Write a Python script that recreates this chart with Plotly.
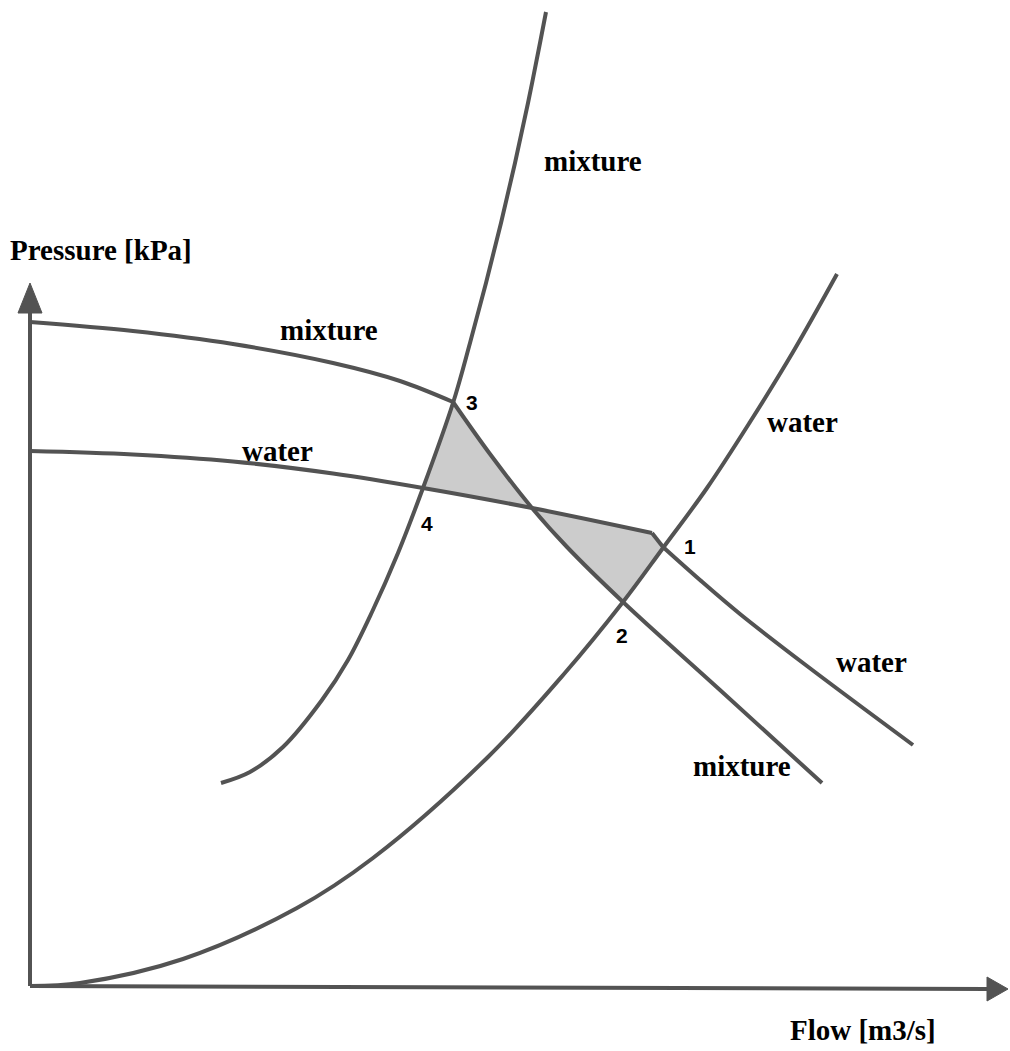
import plotly.graph_objects as go

# Flow axis (x) and pressure axis (y) in drawing units; origin at the axes corner.

# Pump curve with mixture (bends at operating point 3)
mix_pump_q = [0, 103, 203, 303, 370, 423, 460, 502, 537, 593, 690, 792]
mix_pump_p = [664, 655, 642, 623, 605, 584, 532, 478, 439, 384, 296, 203]
mix_pump_breaks = [423]

# Pump curve with water (bends near operating point 1)
water_pump_q = [0, 103, 203, 303, 393, 502, 622, 633, 670, 710, 777, 883]
water_pump_p = [535, 531.5, 524.5, 512.5, 498, 478, 453, 439, 406, 372, 320, 241]
water_pump_breaks = [622, 633]

# System curve with mixture (steep)
mix_sys_q = [191, 220, 253, 292, 318, 342, 368, 393, 423, 440, 456, 471, 485, 498, 510, 516]
mix_sys_p = [203, 214, 239, 286, 326, 374, 433, 498, 583, 643, 703, 763, 823, 883, 943, 974]

# System curve with water (starts at origin)
water_sys_q = [0, 50, 153, 267, 343, 458, 534, 593, 633, 677, 720, 763, 807]
water_sys_p = [0, 3, 27, 78, 128, 229, 312, 384, 438, 498, 564, 634, 712]

# Operating points and where the two pump curves cross
op_labels = ["1", "2", "3", "4"]
op_q = [633, 593, 423, 393]
op_p = [439, 384, 584, 498]
cross_q, cross_p = 502, 478

LINE = "#535353"
FILL = "#cccccc"
LW = 4

fig = go.Figure()


def pts_between(qs, ps, q0, q1):
    lo, hi = min(q0, q1), max(q0, q1)
    sel = [(q, p) for q, p in zip(qs, ps) if lo <= q <= hi]
    if q0 > q1:
        sel = sel[::-1]
    return sel


def add_fill(points):
    fig.add_trace(go.Scatter(
        x=[q for q, _ in points], y=[p for _, p in points],
        mode="lines", fill="toself", fillcolor=FILL,
        line=dict(width=0), hoverinfo="skip", showlegend=False))


# Shaded area between points 3, crossing and 4
q1, q2, q3, q4 = op_q
p1, p2, p3, p4 = op_p
area_a = (pts_between(mix_pump_q, mix_pump_p, q3, cross_q)
          + pts_between(water_pump_q, water_pump_p, cross_q, q4)
          + pts_between(mix_sys_q, mix_sys_p, q4, q3))
add_fill(area_a)

# Shaded area between crossing, 1 and 2
area_b = (pts_between(water_pump_q, water_pump_p, cross_q, q1)
          + pts_between(water_sys_q, water_sys_p, q1, q2)
          + pts_between(mix_pump_q, mix_pump_p, q2, cross_q))
add_fill(area_b)


def add_curve(qs, ps, breaks=()):
    cuts = [qs[0]] + list(breaks) + [qs[-1]]
    for a, b in zip(cuts[:-1], cuts[1:]):
        seg = pts_between(qs, ps, a, b)
        fig.add_trace(go.Scatter(
            x=[q for q, _ in seg], y=[p for _, p in seg],
            mode="lines", line=dict(color=LINE, width=LW, shape="spline", smoothing=1.0),
            hoverinfo="skip", showlegend=False))


add_curve(mix_pump_q, mix_pump_p, mix_pump_breaks)
add_curve(water_pump_q, water_pump_p, water_pump_breaks)
add_curve(mix_sys_q, mix_sys_p)
add_curve(water_sys_q, water_sys_p)

# Axes drawn as arrows
x_axis_end = (957, -3)
x_axis_tip = 978
y_axis_end = 673
y_axis_tip = 703
head = 12

fig.add_trace(go.Scatter(x=[0, x_axis_end[0]], y=[0, x_axis_end[1]], mode="lines",
                         line=dict(color=LINE, width=LW), hoverinfo="skip", showlegend=False))
fig.add_trace(go.Scatter(x=[0, 0], y=[0, y_axis_end], mode="lines",
                         line=dict(color=LINE, width=LW), hoverinfo="skip", showlegend=False))
fig.add_trace(go.Scatter(
    x=[x_axis_end[0], x_axis_tip, x_axis_end[0], x_axis_end[0]],
    y=[x_axis_end[1] + head, x_axis_end[1], x_axis_end[1] - head, x_axis_end[1] + head],
    mode="lines", fill="toself", fillcolor=LINE, line=dict(color=LINE, width=1),
    hoverinfo="skip", showlegend=False))
fig.add_trace(go.Scatter(
    x=[-head, 0, head, -head], y=[y_axis_end, y_axis_tip, y_axis_end, y_axis_end],
    mode="lines", fill="toself", fillcolor=LINE, line=dict(color=LINE, width=1),
    hoverinfo="skip", showlegend=False))

SERIF = "Liberation Serif, Times New Roman, serif"
SANS = "Liberation Sans, Arial, sans-serif"

curve_labels = [
    ("mixture", 563, 825),
    ("mixture", 299, 656),
    ("water", 247, 535),
    ("water", 772, 564),
    ("water", 841, 324),
    ("mixture", 712, 220),
]
for text, q, p in curve_labels:
    fig.add_annotation(x=q, y=p, text=f"<b>{text}</b>", showarrow=False,
                       xanchor="center", yanchor="middle",
                       font=dict(family=SERIF, size=29, color="black"))

label_pos = {"1": (660, 440), "2": (592, 351), "3": (442, 584), "4": (397, 463)}
for lab in op_labels:
    q, p = label_pos[lab]
    fig.add_annotation(x=q, y=p, text=f"<b>{lab}</b>", showarrow=False,
                       xanchor="center", yanchor="middle",
                       font=dict(family=SANS, size=21, color="black"))

fig.add_annotation(x=-22, y=736, text="<b>Pressure [kPa]</b>", showarrow=False,
                   xanchor="left", yanchor="middle",
                   font=dict(family=SERIF, size=29, color="black"))
fig.add_annotation(x=833, y=-44, text="<b>Flow [m3/s]</b>", showarrow=False,
                   xanchor="center", yanchor="middle",
                   font=dict(family=SERIF, size=29, color="black"))

fig.update_layout(
    width=1010, height=1051,
    margin=dict(l=0, r=0, t=0, b=0),
    paper_bgcolor="white", plot_bgcolor="white",
    xaxis=dict(range=[-30, 980], visible=False, fixedrange=True),
    yaxis=dict(range=[-65, 986], visible=False, fixedrange=True),
    showlegend=False,
)

fig.write_html("out.html")
